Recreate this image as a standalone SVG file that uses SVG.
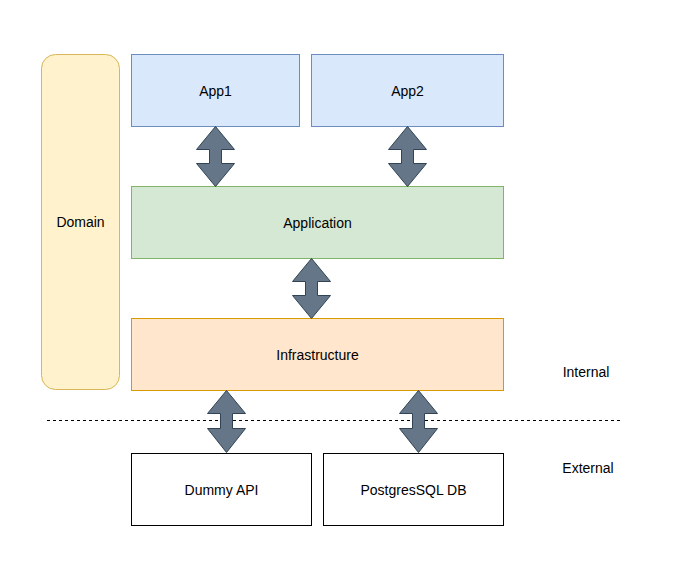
<svg xmlns="http://www.w3.org/2000/svg" width="689" height="562" viewBox="0 0 689 562">
<style>
text{font-family:"Liberation Sans",Arial,sans-serif;font-size:14px;fill:#000;text-anchor:middle;dominant-baseline:central}
.arrow{fill:#647687;stroke:#314354;stroke-width:1}
</style>
<rect width="689" height="562" fill="#ffffff"/>
<g id="domain"><rect x="41.5" y="54.5" width="78" height="335" rx="14" fill="#fff2cc" stroke="#d6b656"/><text x="80.5" y="222">Domain</text></g>
<g id="app1"><rect x="131.5" y="54.5" width="168" height="72" fill="#dae8fc" stroke="#6c8ebf"/><text x="215.5" y="90.5">App1</text></g>
<g id="app2"><rect x="311.5" y="54.5" width="192" height="72" fill="#dae8fc" stroke="#6c8ebf"/><text x="407.5" y="90.5">App2</text></g>
<g id="application"><rect x="131.5" y="186.5" width="372" height="72" fill="#d5e8d4" stroke="#82b366"/><text x="317.5" y="222.5">Application</text></g>
<g id="infrastructure"><rect x="131.5" y="318.5" width="372" height="72" fill="#ffe6cc" stroke="#d79b00"/><text x="317.5" y="354.5">Infrastructure</text></g>
<g id="dummy-api"><rect x="131.5" y="453.5" width="180" height="72" fill="#ffffff" stroke="#000000"/><text x="221.5" y="489.5">Dummy API</text></g>
<g id="postgres"><rect x="323.5" y="453.5" width="180" height="72" fill="#ffffff" stroke="#000000"/><text x="413.5" y="489.5">PostgresSQL DB</text></g>
<g id="label-internal"><text x="586" y="372">Internal</text></g>
<g id="label-external"><text x="588" y="468">External</text></g>
<g id="connectors">
<line x1="47" y1="420.5" x2="621" y2="420.5" stroke="#000" stroke-dasharray="3 3"/>
<path class="arrow" d="M215.5,126.5 L234.5,149.5 L221.5,149.5 L221.5,163.5 L234.5,163.5 L215.5,186.5 L196.5,163.5 L209.5,163.5 L209.5,149.5 L196.5,149.5 Z"/>
<path class="arrow" d="M407.5,126.5 L426.5,149.5 L413.5,149.5 L413.5,163.5 L426.5,163.5 L407.5,186.5 L388.5,163.5 L401.5,163.5 L401.5,149.5 L388.5,149.5 Z"/>
<path class="arrow" d="M311.5,258.5 L330.5,281.5 L317.5,281.5 L317.5,295.5 L330.5,295.5 L311.5,318.5 L292.5,295.5 L305.5,295.5 L305.5,281.5 L292.5,281.5 Z"/>
<path class="arrow" d="M226.5,390.5 L245.5,413.5 L232.5,413.5 L232.5,428.5 L245.5,428.5 L226.5,452.5 L207.5,428.5 L220.5,428.5 L220.5,413.5 L207.5,413.5 Z"/>
<path class="arrow" d="M418.5,390.5 L437.5,413.5 L424.5,413.5 L424.5,428.5 L437.5,428.5 L418.5,452.5 L399.5,428.5 L412.5,428.5 L412.5,413.5 L399.5,413.5 Z"/>
</g>
</svg>
